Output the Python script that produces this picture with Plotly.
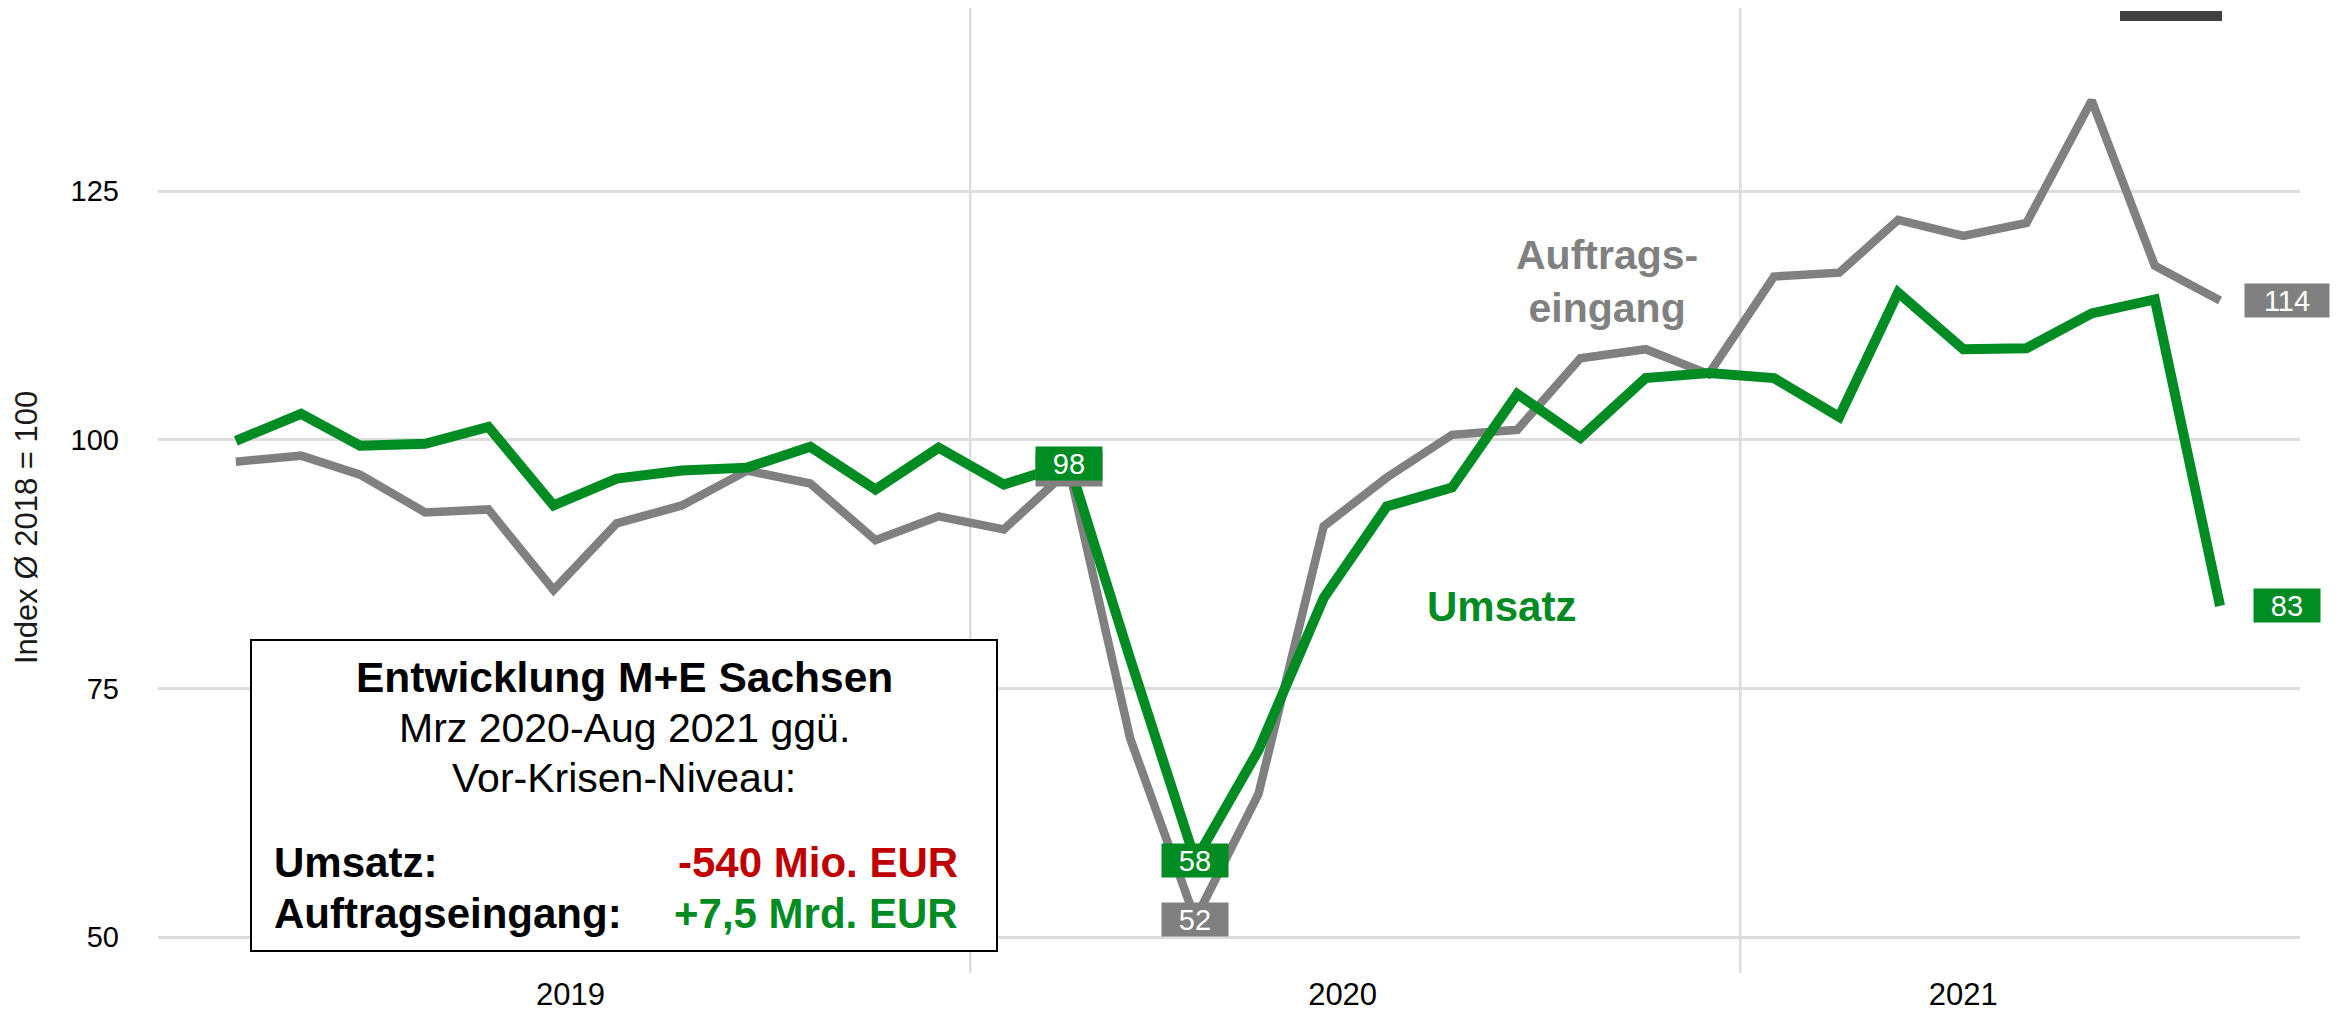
import pandas as pd
import plotly.graph_objects as go

# ---- data -------------------------------------------------------------
months = pd.date_range("2019-01-01", periods=32, freq="MS")

umsatz = [99.9, 102.6, 99.4, 99.6, 101.3, 93.4, 96.1, 96.9, 97.2, 99.3, 95.0, 99.2,
          95.5, 97.6, 78.0, 57.7, 68.8, 84.1, 93.3, 95.2, 104.6, 100.2, 106.2, 106.7,
          106.2, 102.3, 114.8, 109.1, 109.2, 112.7, 114.1, 83.3]

auftragseingang = [97.8, 98.4, 96.5, 92.7, 93.0, 84.9, 91.6, 93.4, 96.9, 95.6, 89.9, 92.3,
                   91.0, 97.0, 70.0, 51.8, 64.4, 91.3, 96.2, 100.5, 101.0, 108.2, 109.1, 106.6,
                   116.4, 116.8, 122.1, 120.5, 121.8, 134.1, 117.5, 114.0]

label_idx = [13, 15, 31]          # points that carry a value box
y_ticks = [50, 75, 100, 125]
year_tick_pos = ["2019-06-09", "2020-06-10", "2021-04-01"]
year_tick_text = ["2019", "2020", "2021"]
year_bounds = ["2019-12-16", "2020-12-16"]

GREEN = "#008C23"
GRAY = "#808080"
RED = "#C00000"
GRID = "#DCDCDC"
FONT = "Liberation Sans, Arial, sans-serif"

# page body adds an 8px margin -> figure is placed at (8, 8) in the window
OFF = 8
W, H = 2339 - OFF, 1011 - OFF
L, R, T, B = 150, 39, 0, 38
PW, PH = W - L - R, H - T - B


def px(xw):
    """window x pixel -> paper x"""
    return (xw - OFF - L) / PW


def py(yw):
    """window y pixel -> paper y"""
    return (H - B - (yw - OFF)) / PH


fig = go.Figure()
fig.add_trace(go.Scatter(x=months, y=auftragseingang, mode="lines",
                         line=dict(color=GRAY, width=8.5), name="Auftragseingang",
                         hoverinfo="skip"))
fig.add_trace(go.Scatter(x=months, y=umsatz, mode="lines",
                         line=dict(color=GREEN, width=10), name="Umsatz",
                         hoverinfo="skip"))

annotations = []
# value boxes (gray first, green on top)
for vals, col in [(auftragseingang, GRAY), (umsatz, GREEN)]:
    for i in label_idx:
        txt = str(round(vals[i]))
        annotations.append(dict(
            x=months[i], y=vals[i], xref="x", yref="y", text=txt, showarrow=False,
            xanchor="center", yanchor="middle", xshift=67 if i == len(vals) - 1 else 0,
            bgcolor=col, width=66 if len(txt) == 2 else 84, height=33, borderpad=0,
            font=dict(family=FONT, size=29, color="white")))

# series labels
annotations.append(dict(x=px(1607), y=py(281), xref="paper", yref="paper",
                        text="Auftrags-<br>eingang", showarrow=False,
                        xanchor="center", yanchor="middle",
                        font=dict(family=FONT, size=41, color=GRAY, weight="bold")))
annotations.append(dict(x=px(1501), y=py(607), xref="paper", yref="paper",
                        text="Umsatz", showarrow=False,
                        xanchor="center", yanchor="middle",
                        font=dict(family=FONT, size=42, color=GREEN, weight="bold")))

# y axis title
annotations.append(dict(x=px(26), y=py(528), xref="paper", yref="paper",
                        text="Index Ø 2018 = 100", showarrow=False, textangle=-90,
                        xanchor="center", yanchor="middle",
                        font=dict(family=FONT, size=31, color="#1a1a1a")))

# text box content
cx = px(624)
annotations += [
    dict(x=cx, y=py(677), text="Entwicklung M+E Sachsen", xanchor="center",
         font=dict(family=FONT, size=42.5, color="black", weight="bold")),
    dict(x=cx, y=py(728), text="Mrz 2020-Aug 2021 ggü.", xanchor="center",
         font=dict(family=FONT, size=41, color="black")),
    dict(x=cx, y=py(778), text="Vor-Krisen-Niveau:", xanchor="center",
         font=dict(family=FONT, size=41, color="black")),
    dict(x=px(272), y=py(862), text="Umsatz:", xanchor="left",
         font=dict(family=FONT, size=42, color="black", weight="bold")),
    dict(x=px(272), y=py(913), text="Auftragseingang:", xanchor="left",
         font=dict(family=FONT, size=42, color="black", weight="bold")),
    dict(x=px(960), y=py(862), text="-540 Mio. EUR", xanchor="right",
         font=dict(family=FONT, size=42, color=RED, weight="bold")),
    dict(x=px(960), y=py(913), text="+7,5 Mrd. EUR", xanchor="right",
         font=dict(family=FONT, size=42, color=GREEN, weight="bold")),
]
for a in annotations[-7:]:
    a.update(xref="paper", yref="paper", showarrow=False, yanchor="middle")

shapes = []
for xb in year_bounds:
    shapes.append(dict(type="line", xref="x", yref="paper", x0=xb, x1=xb, y0=0, y1=1,
                       line=dict(color=GRID, width=2.5), layer="below"))
shapes.append(dict(type="rect", xref="paper", yref="paper",
                   x0=px(251), x1=px(997), y0=py(951), y1=py(640),
                   fillcolor="white", line=dict(color="black", width=2), layer="above"))
shapes.append(dict(type="rect", xref="paper", yref="paper",
                   x0=px(2120), x1=px(2222), y0=py(21), y1=py(11),
                   fillcolor="#404040", line=dict(width=0), layer="above"))

fig.update_layout(
    width=W, height=H,
    margin=dict(l=L, r=R, t=T, b=B, autoexpand=False),
    paper_bgcolor="white", plot_bgcolor="white",
    showlegend=False,
    annotations=annotations,
    shapes=shapes,
    xaxis=dict(type="date", range=["2018-11-25", "2021-09-08"],
               tickmode="array", tickvals=year_tick_pos, ticktext=year_tick_text,
               showgrid=False, zeroline=False, showline=False, ticks="",
               tickfont=dict(family=FONT, size=31, color="black")),
    yaxis=dict(range=[46.4, 143.4], tickmode="array", tickvals=y_ticks,
               showgrid=True, gridcolor=GRID, gridwidth=2.5,
               zeroline=False, showline=False, ticks="", ticklabelstandoff=38,
               tickfont=dict(family=FONT, size=29, color="black")),
)

fig.write_html("out.html")
